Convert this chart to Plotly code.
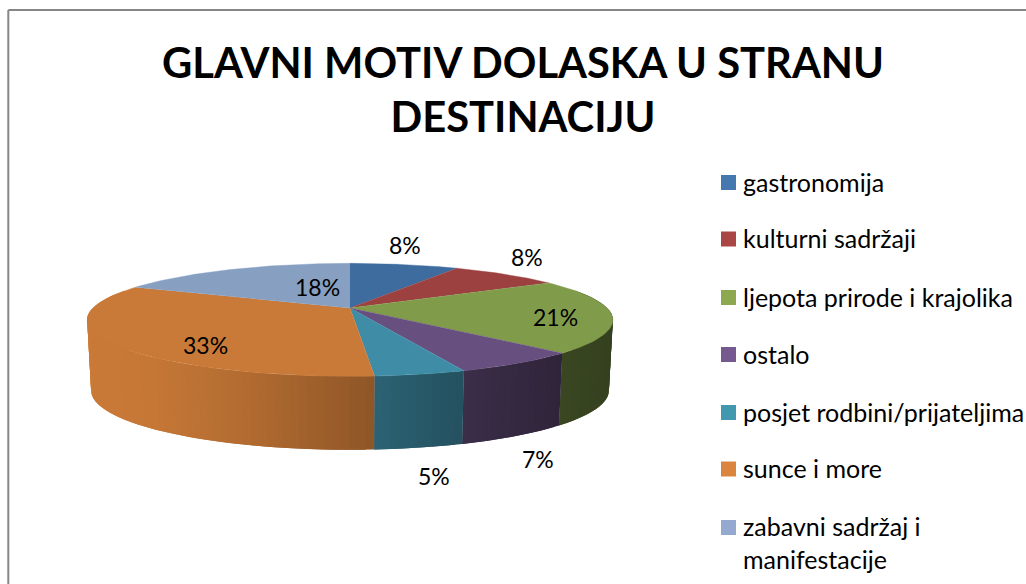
"""Glavni motiv dolaska u stranu destinaciju: 3D pie drawn on pixel-sized axes."""
import numpy as np
import plotly.graph_objects as go

CATEGORIES = ["gastronomija", "kulturni sadržaji", "ljepota prirode i krajolika", "ostalo",
              "posjet rodbini/prijateljima", "sunce i more", "zabavni sadržaj i<br>manifestacije"]
VALUES = [8.2, 8.2, 21.2, 6.6, 4.6, 33.1, 18.1]
TOP_COLORS = ["#3F6C9F", "#9C4040", "#809C4B", "#67507F", "#3E8CA5", "#CA7A38", "#87A0C2"]
LEGEND_COLORS = ["#4678B0", "#AA4644", "#8CA850", "#75598F", "#4198AF", "#DB843D", "#93A9CF"]
LABEL_POS = [(405, 245), (527, 257), (555, 317), (538, 459), (434, 476), (205, 345), (317, 287)]
LEGEND_Y = [182.5, 239, 297.5, 354.5, 412.5, 469, 527.5]

W, H = 1026, 584
FONT = "Lato"
CX, CY, RX, RY, PERSP = 350, 308, 257, 54, 0.21
DEPTH, BOTTOM_SCALE_X, BOTTOM_SCALE_Y = 70, 0.985, 1.05
STRIP = np.radians(1.5)


def rim(theta, bottom=False):
    # theta is clockwise from 12 o'clock, back of the pie drawn smaller
    sx, sy = np.sin(theta), np.cos(theta)
    d = 1 + PERSP * sy
    if bottom:
        return CX + RX * BOTTOM_SCALE_X * sx / d, CY - RY * BOTTOM_SCALE_Y * sy / d + DEPTH
    return CX + RX * sx / d, CY - RY * sy / d


def wall_shade(x):
    return np.interp(x, [91, 150, 250, 378, 465, 560, 610], [1, .98, .88, .70, .58, .46, .42])


def shaded(color, f):
    rgb = [int(color[i:i + 2], 16) for i in (1, 3, 5)]
    return "rgb({},{},{})".format(*[int(c * f) for c in rgb])


edges = np.cumsum([0] + VALUES) / sum(VALUES) * 2 * np.pi

fig = go.Figure()

# side wall, each strip runs a little under the next one so no seams show
for i, color in enumerate(TOP_COLORS):
    lo, hi = max(edges[i], np.radians(70)), min(edges[i + 1], np.radians(290))
    if hi <= lo:
        continue
    steps = np.arange(lo, hi, STRIP)
    for a in steps:
        t = np.array([a, min(a + 2 * STRIP, hi)])
        xt, yt = rim(t)
        xb, yb = rim(t[::-1], bottom=True)
        c = shaded(color, wall_shade(rim(a + STRIP / 2)[0]))
        fig.add_trace(go.Scatter(
            x=np.r_[xt, xb], y=np.r_[yt, yb], mode="lines", fill="toself",
            fillcolor=c, line=dict(width=0),
            hoverinfo="skip", showlegend=False,
        ))

# top face
for i, color in enumerate(TOP_COLORS):
    t = np.linspace(edges[i], edges[i + 1], 60)
    xt, yt = rim(t)
    fig.add_trace(go.Scatter(
        x=np.r_[CX, xt], y=np.r_[CY, yt], mode="lines", fill="toself",
        fillcolor=color, line=dict(color=color, width=0.4),
        hovertemplate="{}: {:.0f}%<extra></extra>".format(CATEGORIES[i].replace("<br>", " "), VALUES[i]),
        showlegend=False,
    ))

# legend is drawn by hand: the real one pushes the plot area and pages at this size
fig.add_trace(go.Scatter(
    x=[728.5] * len(LEGEND_Y), y=LEGEND_Y, mode="markers",
    marker=dict(symbol="square", size=15, color=LEGEND_COLORS, line=dict(width=0)),
    hoverinfo="skip", showlegend=False,
))
for name, y in zip(CATEGORIES, LEGEND_Y):
    extra = 15 if "<br>" in name else -1
    fig.add_annotation(x=743, y=y + extra, text=name, showarrow=False, xanchor="left", align="left",
                       xshift=-2, font=dict(family=FONT, size=25, color="#000000"))

for (x, y), v in zip(LABEL_POS, VALUES):
    fig.add_annotation(x=x, y=y, text="{:.0f}%".format(v), showarrow=False,
                       font=dict(family=FONT, size=23, color="#000000"))

fig.add_shape(type="line", x0=8.3, x1=8.3, y0=10, y1=H, line=dict(color="#868686", width=2))
fig.add_shape(type="line", x0=8.3, x1=W, y0=10, y1=10, line=dict(color="#868686", width=2))

fig.update_layout(
    width=W, height=H,
    margin=dict(l=0, r=0, t=0, b=0),
    paper_bgcolor="white", plot_bgcolor="white",
    showlegend=False,
    title=dict(text="<b>GLAVNI MOTIV DOLASKA U STRANU<br>DESTINACIJU</b>",
               x=0.5097, xanchor="center", y=0.867, yanchor="top",
               font=dict(family=FONT, size=41.7, color="#000000")),
    xaxis=dict(range=[0, W], visible=False, fixedrange=True),
    yaxis=dict(range=[H, 0], visible=False, fixedrange=True),
)

fig.write_html("out.html", config=dict(displayModeBar=False),
               post_script="document.body.style.margin='0';document.body.style.overflow='hidden';")
